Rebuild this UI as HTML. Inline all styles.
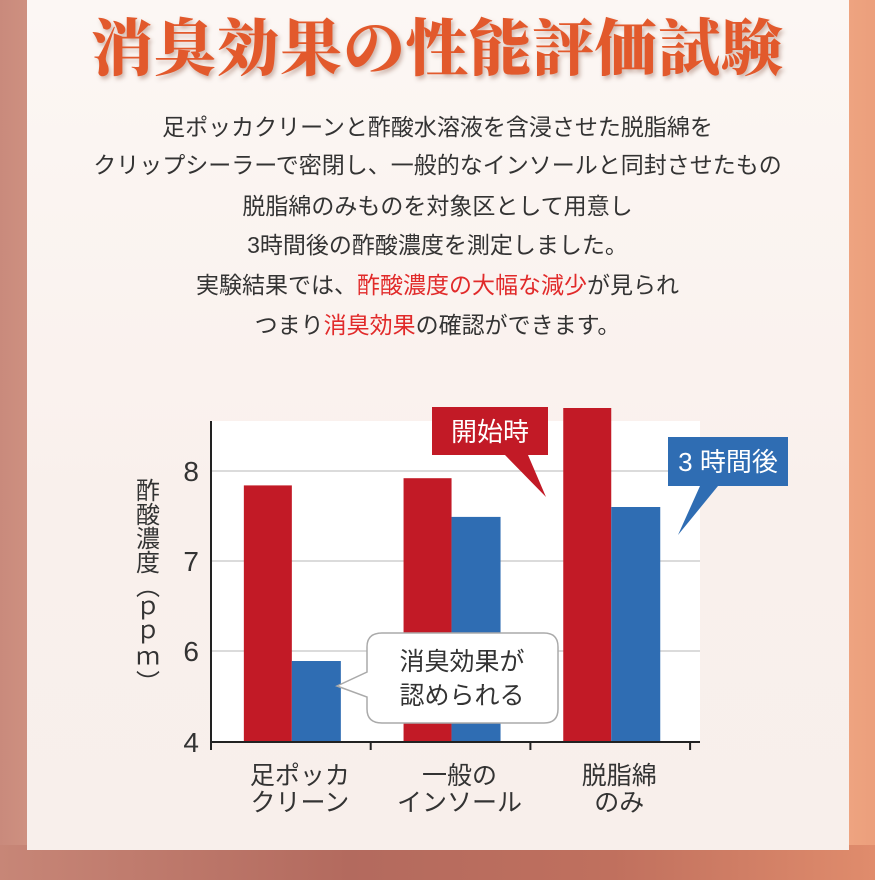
<!DOCTYPE html>
<html><head><meta charset="utf-8">
<style>
html,body{margin:0;padding:0;}
body{width:875px;height:880px;position:relative;overflow:hidden;font-family:"Liberation Sans","Noto Sans CJK JP",sans-serif;
background:linear-gradient(90deg,#c98a7c 0%,#e2a890 15%,#f0c0a8 50%,#f5b690 85%,#ec9f7c 100%);}
#bottom{position:absolute;left:0;top:845px;width:875px;height:35px;background:linear-gradient(90deg,#c78677,#b36a5e 40%,#c0705e 70%,#e08c6c);}
#panel{position:absolute;left:27px;top:0;width:822px;height:850px;background:linear-gradient(180deg,#fcf7f4,#f9f0ec 60%,#f8efeb);}
#title{position:absolute;left:0;top:4px;width:875px;text-align:center;font-family:"Noto Serif CJK SC","Liberation Serif",serif;font-weight:900;font-size:62px;color:#e2592c;letter-spacing:1px;text-shadow:2px 3px 4px rgba(120,60,40,.35);line-height:80px;}
.line{position:absolute;left:0;width:875px;text-align:center;font-size:23px;color:#333;line-height:30px;}
.red{color:#e12a2a;}
</style></head>
<body>
<div id="bottom"></div>
<div id="panel"></div>
<div id="title">消臭効果の性能評価試験</div>
<div class="line" style="top:112px">足ポッカクリーンと酢酸水溶液を含浸させた脱脂綿を</div>
<div class="line" style="top:150px">クリップシーラーで密閉し、一般的なインソールと同封させたもの</div>
<div class="line" style="top:191px">脱脂綿のみものを対象区として用意し</div>
<div class="line" style="top:230px">3時間後の酢酸濃度を測定しました。</div>
<div class="line" style="top:270px">実験結果では、<span class="red">酢酸濃度の大幅な減少</span>が見られ</div>
<div class="line" style="top:310px">つまり<span class="red">消臭効果</span>の確認ができます。</div>

<svg id="chart" width="875" height="880" style="position:absolute;left:0;top:0"></svg>
<script>
const categories=[["足ポッカ","クリーン"],["一般の","インソール"],["脱脂綿","のみ"]];
const startValues=[7.84,7.92,8.7];
const afterValues=[5.78,7.49,7.6];
const tickValues=[4,6,7,8];
const tickLabels=["4","6","7","8"];

const NS="http://www.w3.org/2000/svg";
const svg=document.getElementById('chart');
const X0=211,X1=700,PT=421;
function y(v){
  if(v>=6) return 651-(v-6)*90;
  return 742-(v-4)*45.5;
}
function el(tag,attrs,parent){const e=document.createElementNS(NS,tag);for(const k in attrs)e.setAttribute(k,attrs[k]);(parent||svg).appendChild(e);return e;}
const bg=el('rect',{x:X0,y:PT,width:X1-X0,height:742-PT,fill:'#ffffff'});


tickValues.forEach((v,i)=>{
  if(v>4){const g=el('line',{x1:X0,x2:X1,y1:y(v),y2:y(v),stroke:'#cfcfcf','stroke-width':1.5});
  
  }
  const t=el('text',{x:X0-12,y:y(v)+10,'text-anchor':'end','font-size':28,fill:'#333','font-family':'Liberation Sans,sans-serif'});
  t.textContent=tickLabels[i];
  
  
});
const band=159.7;
categories.forEach((c,i)=>{
  const cx=X0+band*(i+0.5);
  const r=el('rect',{x:cx-47,y:y(startValues[i]),width:48,height:742-y(startValues[i]),fill:'#c21a26'});
  
  
  const b=el('rect',{x:cx+1,y:y(afterValues[i]),width:49,height:742-y(afterValues[i]),fill:'#2f6db3'});
  
  
  c.forEach((s,j)=>{
    const t=el('text',{x:cx+9,y:784+j*27,'text-anchor':'middle','font-size':25,fill:'#333','font-family':'Liberation Sans,Noto Sans CJK JP,sans-serif'});
    t.textContent=s;
    
    
  });
});
const ax=el('path',{d:`M${X0} 421 V742 H${X1}`,stroke:'#222','stroke-width':2,fill:'none'});


[0,1,2,3].forEach(i=>{const tk=el('line',{x1:X0+band*i,x2:X0+band*i,y1:742,y2:750,stroke:'#222','stroke-width':2});

});
</script>
<svg width="875" height="880" style="position:absolute;left:0;top:0">
 <g font-family="Liberation Sans,Noto Sans CJK JP,sans-serif" fill="#333">
  <text x="145" y="478" font-size="24" style="writing-mode:vertical-rl" text-anchor="start">酢酸濃度（ｐｐｍ）</text>
 </g>
 <g>
  <path d="M432 407 H548 V455 H528 L546 497 L505 455 H432 Z" fill="#c21a26"/>
  <text x="490" y="441" font-size="26" fill="#fff" text-anchor="middle" font-family="Liberation Sans,Noto Sans CJK JP,sans-serif">開始時</text>
 </g>
 <g>
  <path d="M668 437 H788 V486 H718 L678 535 L700 486 H668 Z" fill="#2f6db3"/>
  <text x="728" y="471" font-size="26" fill="#fff" text-anchor="middle" font-family="Liberation Sans,Noto Sans CJK JP,sans-serif">3 時間後</text>
 </g>
 <g>
  <path d="M382 633 H544 Q558 633 558 647 V709 Q558 723 544 723 H382 Q367 723 367 709 V697 L337 686 L367 672 V647 Q367 633 382 633 Z" fill="#fff" stroke="#aaa" stroke-width="1.5"/>
  <text x="462" y="670" font-size="25" fill="#333" text-anchor="middle" font-family="Liberation Sans,Noto Sans CJK JP,sans-serif">消臭効果が</text>
  <text x="462" y="704" font-size="25" fill="#333" text-anchor="middle" font-family="Liberation Sans,Noto Sans CJK JP,sans-serif">認められる</text>
 </g>
</svg>
</body></html>
